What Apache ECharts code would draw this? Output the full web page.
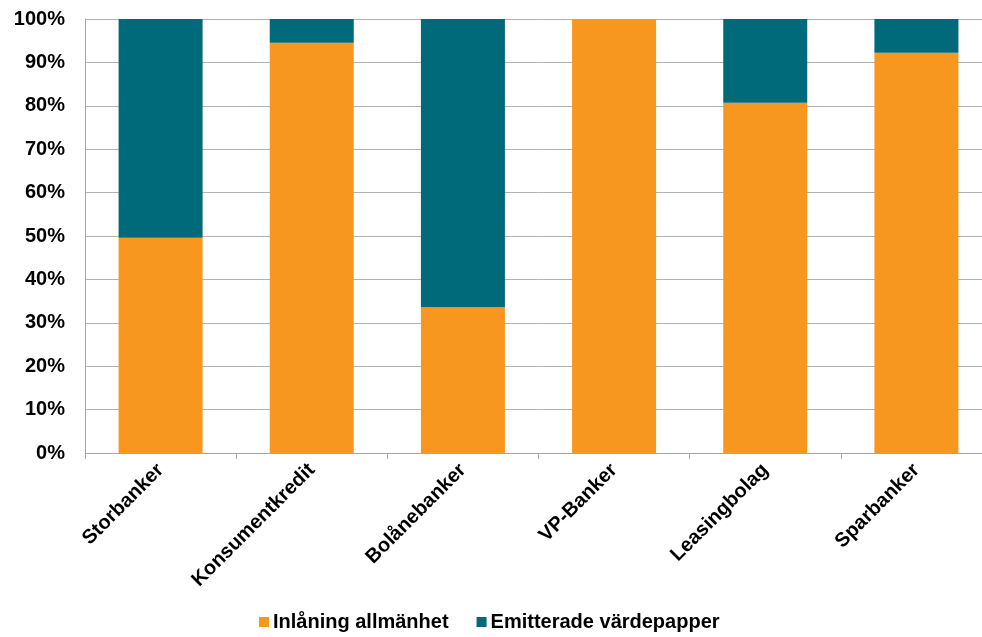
<!DOCTYPE html>
<html><head><meta charset="utf-8">
<script src="https://cdn.jsdelivr.net/npm/echarts@6/dist/echarts.min.js"></script>
<style>html,body{margin:0;padding:0;background:#fff;overflow:hidden}#c{width:1000px;height:637px}</style>
</head><body><div id="c"></div>
<script>
var categories = ['Storbanker','Konsumentkredit','Bolånebanker','VP-Banker','Leasingbolag','Sparbanker'];
var inlaning = [49.6, 94.5, 33.6, 100, 80.7, 92.2];
var emitterade = [50.4, 5.5, 66.4, 0, 19.3, 7.8];
var seriesNames = ['Inlåning allmänhet','Emitterade värdepapper'];
var chart = echarts.init(document.getElementById('c'));
var font = 'Liberation Sans, Arial, sans-serif';
chart.setOption({
  animation:false,
  grid:{left:85, width:907, top:19, height:434, containLabel:false},
  legend:{top:607, left:254, itemWidth:10, itemHeight:10, itemGap:28, icon:'rect',
    textStyle:{fontFamily:font, fontWeight:'bold', fontSize:20, color:'#000', padding:[0,0,0,-1]},
    data:seriesNames},
  xAxis:{type:'category', data:categories,
    axisLine:{lineStyle:{color:'#a6a6a6', width:1}},
    axisTick:{show:true, alignWithLabel:false, length:6, lineStyle:{color:'#a6a6a6'}},
    axisLabel:{rotate:45, interval:0, margin:14, fontFamily:font, fontWeight:'bold', fontSize:20, color:'#000'}},
  yAxis:{type:'value', min:0, max:100, interval:10,
    axisLine:{show:true, lineStyle:{color:'#a6a6a6'}},
    axisTick:{show:false},
    splitLine:{lineStyle:{color:'#b3b3b3', width:1}},
    axisLabel:{formatter:'{value}%', margin:20, fontFamily:font, fontWeight:'bold', fontSize:20, color:'#000'}},
  series:[
    {name:seriesNames[0], type:'bar', stack:'s', data:inlaning, barWidth:84, itemStyle:{color:'#F7971F'}},
    {name:seriesNames[1], type:'bar', stack:'s', data:emitterade, barWidth:84, itemStyle:{color:'#00697A'}}
  ]
});
</script></body></html>
